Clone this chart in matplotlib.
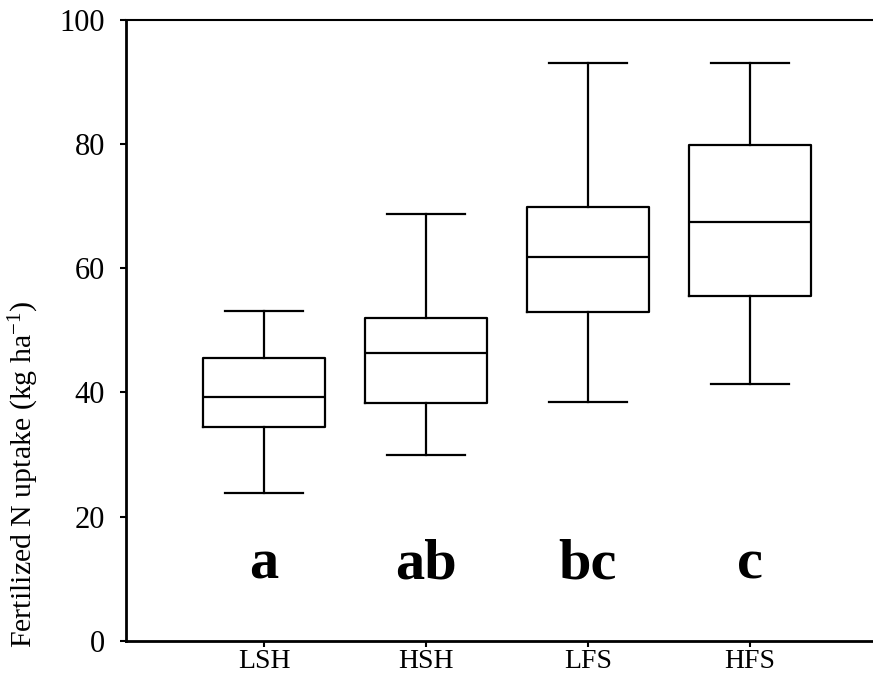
import numpy as np
import matplotlib.pyplot as plt
from matplotlib import font_manager

# register Liberation Serif explicitly in case the cache misses it
for f in font_manager.findSystemFonts():
    if 'LiberationSerif' in f.replace(' ', '') or 'Liberation Serif' in f:
        font_manager.fontManager.addfont(f)

plt.rcParams['font.family'] = ['Liberation Serif', 'DejaVu Serif']
plt.rcParams['mathtext.fontset'] = 'custom'
plt.rcParams['mathtext.rm'] = 'Liberation Serif'
plt.rcParams['mathtext.it'] = 'Liberation Serif:italic'

groups = ['LSH', 'HSH', 'LFS', 'HFS']
whislo = [23.8, 30.0, 38.5, 41.4]
q1 = [34.4, 38.3, 53.0, 55.6]
med = [39.3, 46.4, 61.9, 67.5]
q3 = [45.6, 52.0, 69.9, 79.9]
whishi = [53.1, 68.8, 93.1, 93.1]
letters = ['a', 'ab', 'bc', 'c']

stats = []
for i in range(len(groups)):
    stats.append({'label': groups[i], 'whislo': whislo[i], 'q1': q1[i], 'med': med[i],
                  'q3': q3[i], 'whishi': whishi[i], 'fliers': []})

fig = plt.figure(figsize=(8.73, 6.76), dpi=100)
ax = fig.add_axes([0.1443, 0.0525, 0.8557, 0.9172])

pos = np.arange(1, len(groups) + 1)
lw = 1.6
ax.bxp(stats, positions=pos, widths=0.75, showfliers=False,
       boxprops=dict(color='black', linewidth=lw),
       medianprops=dict(color='black', linewidth=lw),
       whiskerprops=dict(color='black', linewidth=lw),
       capprops=dict(color='black', linewidth=lw),
       capwidths=0.48)

for i in range(len(groups)):
    ax.text(pos[i], 10.0, letters[i], ha='center', va='baseline',
            fontsize=42, fontweight='bold')

ax.set_xlim(0.148, 4.76)
ax.set_ylim(0, 100)
ax.set_yticks([0, 20, 40, 60, 80, 100])
ax.set_xticks(pos)
ax.set_xticklabels(groups)
ax.tick_params(axis='y', labelsize=22, length=4, width=1.5, direction='out', pad=11)
ax.tick_params(axis='x', labelsize=20, length=4, width=1.5, direction='out', pad=2)

ax.spines['right'].set_visible(False)
ax.spines['left'].set_linewidth(2)
ax.spines['bottom'].set_linewidth(2)
ax.spines['top'].set_linewidth(1.5)

fig.text(0.027, 0.299, 'Fertilized N uptake (kg ha$^{-1}$)', rotation=90,
         ha='center', va='center', fontsize=21.5)

fig.savefig('out.png', dpi=100)
